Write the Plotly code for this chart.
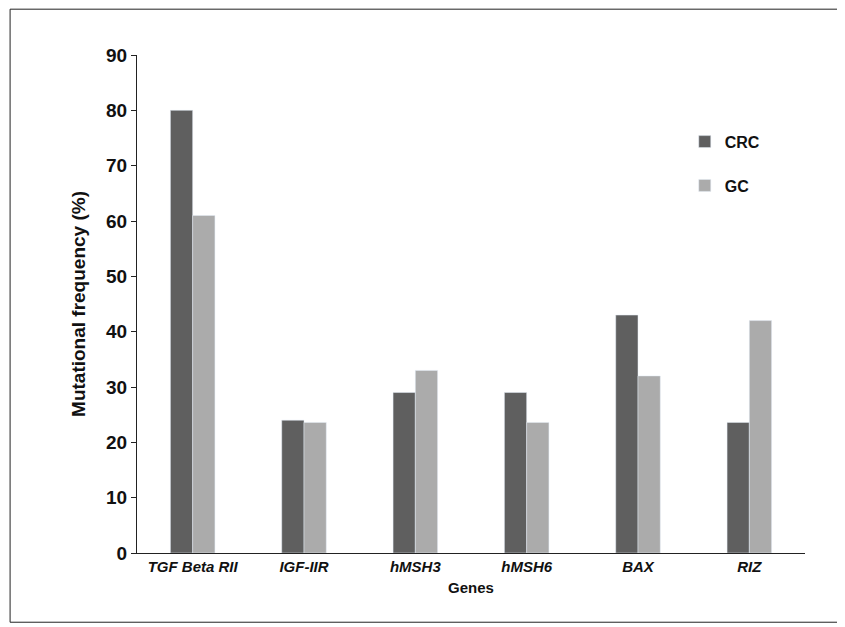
import plotly.graph_objects as go

genes = ["TGF Beta RII", "IGF-IIR", "hMSH3", "hMSH6", "BAX", "RIZ"]
crc = [80, 24, 29, 29, 43, 23.6]
gc = [61, 23.6, 33, 23.6, 32, 42]
gene_labels = ["<i>%s</i>" % g for g in genes]

fig = go.Figure()
fig.add_bar(x=gene_labels, y=crc, name="<b>CRC</b>", marker_color="#5f5f5f", legendgroup="a")
fig.add_bar(x=gene_labels, y=gc, name="<b>GC</b>", marker_color="#ababab", legendgroup="b")

fig.update_layout(
    width=845, height=627,
    barmode="group", bargap=0.6, bargroupgap=0,
    plot_bgcolor="white", paper_bgcolor="white",
    font=dict(family="Liberation Sans, Arial", color="#111", size=15),
    margin=dict(l=129, r=48, t=47, b=82),
    legend=dict(x=0.82, y=0.86, xanchor="left", yanchor="top",
                font=dict(size=16, family="Liberation Sans, Arial"),
                tracegroupgap=20, itemwidth=30),
    shapes=[dict(type="rect", xref="paper", yref="paper",
                 x0=-0.19, x1=1.054, y0=-0.139, y1=1.092,
                 line=dict(color="#222", width=1))],
)
fig.update_yaxes(range=[0, 90], dtick=10, showline=True, linecolor="#222",
                 ticks="outside", ticklen=5, tickcolor="#222", showgrid=False,
                 tickfont=dict(size=19, family="Liberation Sans, Arial", weight="bold"),
                 title=dict(text="<b>Mutational frequency (%)</b>", font=dict(size=19)))
fig.update_xaxes(showline=True, linecolor="#222", ticks="",
                 tickfont=dict(size=15, family="Liberation Sans, Arial", weight="bold"),
                 title=dict(text="<b>Genes</b>", font=dict(size=15), standoff=8))

fig.write_html("out.html")
